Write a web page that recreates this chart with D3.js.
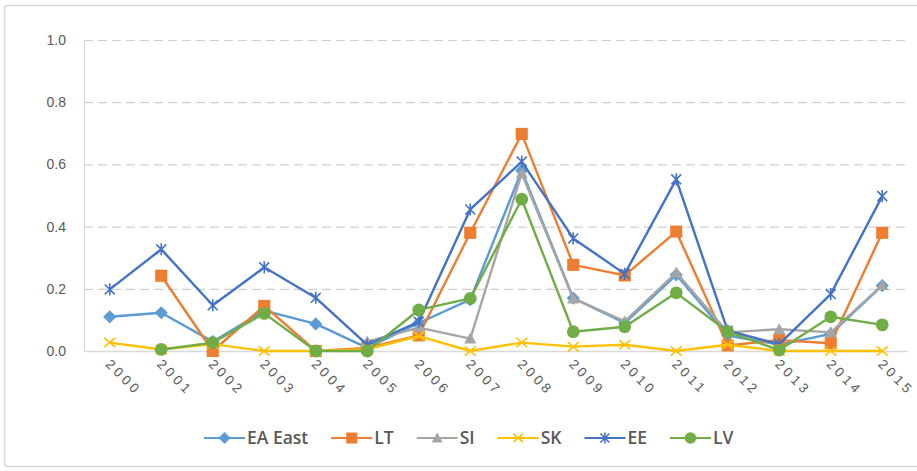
<!DOCTYPE html>
<html><head><meta charset="utf-8">
<script src="https://cdn.jsdelivr.net/npm/d3@7"></script>
<style>
html,body{margin:0;padding:0;background:#fff;}
svg{display:block;font-family:"Open Sans","Liberation Sans",sans-serif;}
</style></head>
<body>
<svg id="c" width="917" height="471"></svg>
<script>
const years = ["2000","2001","2002","2003","2004","2005","2006","2007","2008","2009","2010","2011","2012","2013","2014","2015"];
const yTicks = [0, 0.2, 0.4, 0.6, 0.8, 1.0];
const seriesNames = ["EA East","LT","SI","SK","EE","LV"];
const eaEast = [0.11,0.123,0.03,0.13,0.087,0.01,0.09,0.165,0.58,0.17,0.09,0.245,0.05,0.02,0.055,0.21];
const lt     = [null,0.242,0.0,0.145,0.0,0.01,0.05,0.38,0.698,0.277,0.243,0.384,0.018,0.035,0.025,0.38];
const si     = [null,null,null,null,null,0.03,0.075,0.04,0.571,0.169,0.095,0.252,0.06,0.07,0.06,0.212];
const sk     = [0.027,0.005,0.022,0.0,0.0,0.005,0.048,0.0,0.027,0.014,0.02,0.0,0.02,0.0,0.0,0.0];
const ee     = [0.198,0.327,0.147,0.269,0.171,0.02,0.094,0.455,0.609,0.362,0.248,0.552,0.065,0.022,0.183,0.498];
const lv     = [null,0.005,0.027,0.121,0.0,0.0,0.132,0.169,0.488,0.062,0.078,0.187,0.062,0.003,0.11,0.084];
const colors = ["#5B9BD5","#ED7D31","#A5A5A5","#FFC000","#4472C4","#70AD47"];
const markers = ["diamond","square","triangle","x","star","circle"];
const data = [eaEast, lt, si, sk, ee, lv];

const svg = d3.select("#c");
// chart border
svg.append("rect").attr("x",4.5).attr("y",5.5).attr("width",920).attr("height",461)
  .attr("rx",3).attr("fill","#fff").attr("stroke","#d9d9d9").attr("stroke-width",1.5);

const L = 84, R = 908, T = 40, B = 351;
const x = d3.scaleBand().domain(years).range([L, R]);
const y = d3.scaleLinear().domain([0, 1]).range([B, T]);

// gridlines
svg.append("g").selectAll("line").data(yTicks.filter(d=>d>0)).join("line")
  .attr("x1",L).attr("x2",R-3).attr("y1",d=>y(d)+0.5).attr("y2",d=>y(d)+0.5)
  .attr("stroke","#d0d0d0").attr("stroke-width",1.2).attr("stroke-dasharray","9,5");
// axis lines
svg.append("line").attr("x1",L+0.5).attr("x2",L+0.5).attr("y1",y(1)).attr("y2",B)
  .attr("stroke","#d9d9d9").attr("stroke-width",1.2);
svg.append("line").attr("x1",L).attr("x2",R).attr("y1",B+0.5).attr("y2",B+0.5)
  .attr("stroke","#d9d9d9").attr("stroke-width",1.5);

// y axis labels
const yAxis = d3.axisLeft(y).tickValues(yTicks).tickFormat(d3.format(".1f")).tickSize(0).tickPadding(18);
const gy = svg.append("g").attr("transform",`translate(${L},0)`).call(yAxis);
gy.select(".domain").remove();
gy.selectAll("text").attr("fill","#595959").style("font-size","14px");

// x axis labels
const xAxis = d3.axisBottom(x).tickSize(0);
const gx = svg.append("g").attr("transform",`translate(0,${B})`).call(xAxis);
gx.select(".domain").remove();
gx.selectAll("text").attr("fill","#595959").style("font-size","13.5px")
  .style("letter-spacing","3.6px")
  .attr("text-anchor","start").attr("dy",null).attr("y",0).attr("x",0)
  .attr("transform","translate(-5,14) rotate(45)");

function drawMarker(g, type, color, size) {
  const s = size;
  if (type === "diamond") {
    g.append("path").attr("d",`M0,${-s*0.6}L${s*0.6},0L0,${s*0.6}L${-s*0.6},0Z`).attr("fill",color);
  } else if (type === "square") {
    g.append("rect").attr("x",-s*0.55).attr("y",-s*0.55).attr("width",s*1.1).attr("height",s*1.1).attr("fill",color);
  } else if (type === "triangle") {
    g.append("path").attr("d",`M0,${-s*0.55}L${s*0.55},${s*0.45}L${-s*0.55},${s*0.45}Z`).attr("fill",color);
  } else if (type === "x") {
    g.append("path").attr("d",`M${-s*0.5},${-s*0.42}L${s*0.5},${s*0.42}M${s*0.5},${-s*0.42}L${-s*0.5},${s*0.42}`)
      .attr("stroke",color).attr("stroke-width",1.6).attr("fill","none");
  } else if (type === "star") {
    g.append("path").attr("d",`M${-s*0.45},${-s*0.45}L${s*0.45},${s*0.45}M${s*0.45},${-s*0.45}L${-s*0.45},${s*0.45}M0,${-s*0.55}L0,${s*0.55}`)
      .attr("stroke",color).attr("stroke-width",1.6).attr("fill","none");
  } else if (type === "circle") {
    g.append("circle").attr("r",s*0.58).attr("fill",color);
  }
}

const line = d3.line().defined(d=>d.v!=null).x(d=>x(d.yr)+x.bandwidth()/2).y(d=>y(d.v));
data.forEach((vals,i)=>{
  const pts = years.map((yr,j)=>({yr, v: vals[j]}));
  const g = svg.append("g");
  g.append("path").datum(pts).attr("d",line).attr("fill","none")
    .attr("stroke",colors[i]).attr("stroke-width",2.4).attr("stroke-linejoin","round");
  pts.filter(p=>p.v!=null).forEach(p=>{
    const mg = g.append("g").attr("transform",`translate(${x(p.yr)+x.bandwidth()/2},${y(p.v)})`);
    drawMarker(mg, markers[i], colors[i], 11);
  });
});

// legend
const lg = svg.append("g").attr("transform","translate(0,438)");
let cx = 204;
seriesNames.forEach((n,i)=>{
  const g = lg.append("g").attr("transform",`translate(${cx},0)`);
  g.append("line").attr("x1",0).attr("x2",41).attr("stroke",colors[i]).attr("stroke-width",2.2);
  const mg = g.append("g").attr("transform","translate(20.5,0)");
  drawMarker(mg, markers[i], colors[i], 10);
  const t = g.append("text").attr("x",43).attr("y",0).attr("dy","0.36em").text(n)
    .attr("fill","#595959").style("font-size","17.5px").style("font-weight","600")
    .style("font-family","'Open Sans',sans-serif");
  const w = t.node().getComputedTextLength();
  cx += 43 + w + 23;
});
</script>
</body></html>
